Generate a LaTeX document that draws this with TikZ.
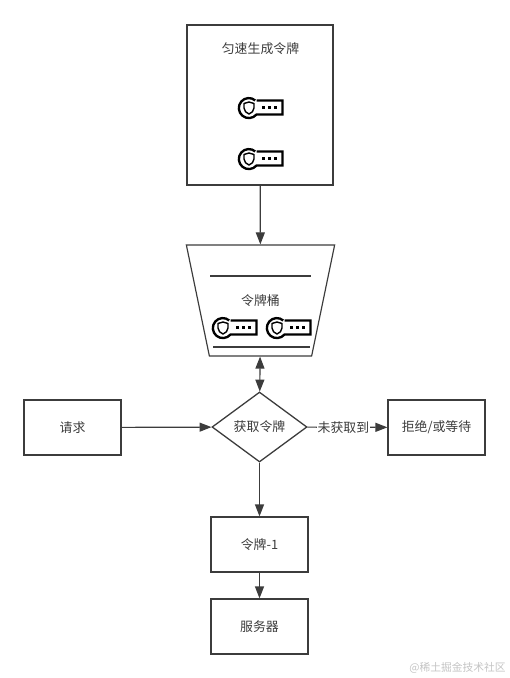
\documentclass[tikz,border=0pt]{standalone}
\usepackage{fontspec}
\setmainfont{Noto Sans CJK SC}
\usetikzlibrary{arrows.meta,shapes.geometric}
\definecolor{ink}{HTML}{3C3C3C}
\definecolor{mark}{HTML}{C4C4C4}

\begin{document}
\begin{tikzpicture}[x=.3mm,y=-.3mm,
 box/.style={draw=ink,line width=1pt,fill=white,minimum width=2.91cm,minimum height=1.65cm,inner sep=0pt,text=ink,font=\fontsize{11}{13}\selectfont},
 bucket/.style={trapezium,shape border rotate=180,trapezium stretches=true,trapezium angle=54,draw=ink,line width=1pt,minimum width=4.47cm,minimum height=3.33cm,inner sep=0pt,text=ink,font=\fontsize{11}{13}\selectfont},
 decision/.style={diamond,aspect=1.357,draw=ink,line width=1.1pt,fill=white,minimum width=2.85cm,minimum height=2.1cm,inner sep=0pt,text=ink,font=\fontsize{11}{13}\selectfont},
 caption/.style={text=ink,inner sep=0pt,font=\fontsize{11}{13}\selectfont},
 link/.style={draw=ink,line width=1pt,-{Triangle[length=3.6mm,width=2.7mm]}},
 rule/.style={ink,line width=1pt},
 keyicon/.pic={
  \draw[black,line width=2pt,line join=miter] (18,-7.5) -- (44,-7.5) -- (44,6.5) -- (18,6.5)
   arc[start angle=40,end angle=310,x radius=10,y radius=10];
  \draw[black,line width=1.2pt,line join=round] (5.5,-4.5) -- (10.5,-6) -- (15.5,-4.5) -- (15.5,0) .. controls (15.5,3) and (13,5) .. (10.5,6) .. controls (8,5) and (5.5,3) .. (5.5,0) -- cycle;
  \foreach \dotx in {25,31,37} \fill[black] (\dotx-1.5,-2) rectangle (\dotx+1.5,1);
 }]
 \useasboundingbox (0,0) rectangle (509,678);
 \node[box,minimum width=4.38cm,minimum height=4.8cm] (source) at (260,105) {};
 \node[caption] (sourcetext) at (260.5,49) {匀速生成令牌};
 \pic at (238.5,108) {keyicon};
 \pic at (238.5,159) {keyicon};
 \node[bucket] (tokens) at (260.5,300.5) {令牌桶};
 \draw[rule] (210,276) -- (311,276);
 \draw[rule] (213,347) -- (310,347);
 \pic at (212.5,328) {keyicon};
 \pic at (266.5,328) {keyicon};
 \node[decision] (fetch) at (259.5,427) {获取令牌};
 \node[box] (request) at (72.5,427.5) {请求};
 \node[box] (reject) at (436.5,427.5) {拒绝/或等待};
 \node[box] (minus) at (259.5,544.5) {令牌-1};
 \node[box] (server) at (259.5,626.5) {服务器};
 \draw[link] (source) -- (tokens);
 \draw[link,{Triangle[length=3.6mm,width=2.7mm]}-{Triangle[length=3.6mm,width=2.7mm]}] (tokens) -- (fetch);
 \draw[link] (request) -- (fetch);
 \draw[link] (fetch) -- node[pos=.45,fill=white,text=ink,inner sep=1pt,font=\fontsize{11}{13}\selectfont]{未获取到} (reject);
 \draw[link] (fetch) -- (minus);
 \draw[link] (minus) -- (server);
 \node[text=mark,inner sep=0pt,anchor=east,font=\fontsize{9.2}{11}\selectfont] (watermark) at (506,668) {@稀土掘金技术社区};
\end{tikzpicture}
\end{document}
